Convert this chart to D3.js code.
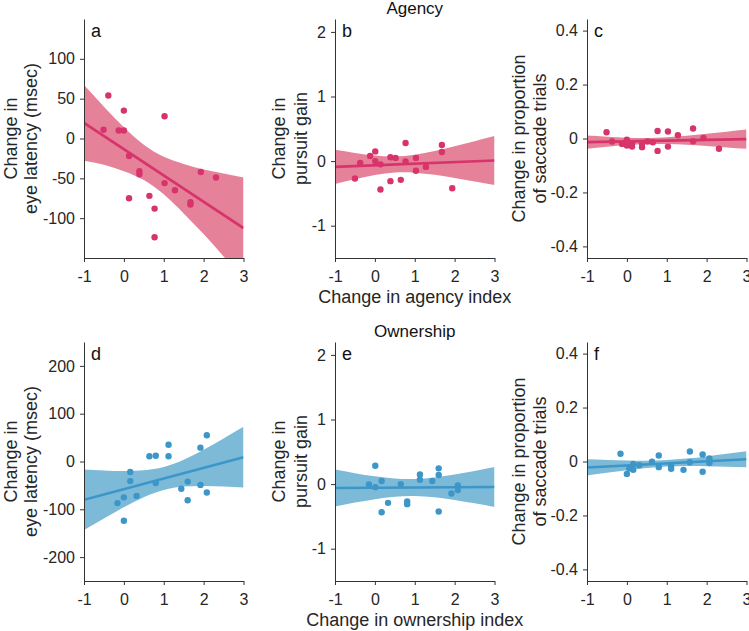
<!DOCTYPE html>
<html>
<head>
<meta charset="utf-8">
<script src="https://cdn.jsdelivr.net/npm/d3@7"></script>
<style>
  html, body { margin: 0; padding: 0; background: #fff; }
  svg { display: block; font-family: "Liberation Sans", Arial, Helvetica, sans-serif; }
  .axis path, .axis line { stroke: #333; stroke-width: 1; }
  .axis text { fill: #262626; font-size: 16px; }
</style>
</head>
<body>
<svg id="chart" width="749" height="631"></svg>
<script>
// ---------------- DATA ----------------
const xTicks = [-1, 0, 1, 2, 3];
const latencyTicksA = [-100, -50, 0, 50, 100];
const latencyTicksD = [-200, -100, 0, 100, 200];
const gainTicks = [-1, 0, 1, 2];
const saccadeTicks = [-0.4, -0.2, 0, 0.2, 0.4];

// confidence-band sample positions (x) and fit-line end positions
const bandX = [-1, -0.5, 0, 0.5, 1, 1.5, 2, 2.5, 3];
const fitX = [-1, 3];

// a: agency vs eye latency
const aX = [-0.51, -0.39, -0.13, 0, 0, 0.13, 0.13, 0.39, 0.39, 0.64, 0.77, 0.77, 1.02, 1.02, 1.28, 1.67, 1.67, 1.93, 2.31];
const aY = [11, 54, 10, 35, 10, -22, -75, -41, -45, -72, -88, -124, 28, -56, -65, -80, -83, -42, -49];
const aFit = [19.6, -112.4];
const aUpper = [67, 40, 14, -8, -23, -32, -39, -44, -49];
const aLower = [-28, -33, -41, -52, -70, -94, -120, -148, -176];

// b: agency vs pursuit gain
const bX = [-0.50, -0.37, -0.12, 0.01, 0.01, 0.14, 0.14, 0.39, 0.39, 0.52, 0.65, 0.77, 0.77, 1.03, 1.03, 1.28, 1.68, 1.68, 1.94];
const bY = [-0.27, -0.03, 0.08, 0.15, 0.0, -0.05, -0.44, 0.06, -0.31, 0.05, -0.29, 0.28, -0.005, 0.05, -0.15, -0.09, 0.25, 0.14, -0.42];
const bFit = [-0.09, 0.01];
const bUpper = [0.175, 0.126, 0.086, 0.073, 0.10, 0.158, 0.23, 0.309, 0.39];
const bLower = [-0.355, -0.281, -0.216, -0.178, -0.18, -0.213, -0.26, -0.314, -0.37];

// c: agency vs proportion of saccade trials
const cX = [-0.51, -0.37, -0.12, 0, 0, 0.13, 0.13, 0.38, 0.38, 0.52, 0.65, 0.77, 0.77, 1.03, 1.03, 1.28, 1.66, 1.66, 1.92, 2.31];
const cY = [0.023, -0.011, -0.02, -0.004, -0.026, -0.019, -0.03, -0.02, -0.032, -0.011, -0.014, 0.028, -0.046, 0.026, -0.03, 0.012, 0.037, -0.01, 0.002, -0.038];
const cFit = [-0.0135, -0.0025];
const cUpper = [0.011, 0.0065, 0.0028, 0.0016, 0.0045, 0.0104, 0.0174, 0.0251, 0.033];
const cLower = [-0.038, -0.0307, -0.0244, -0.0204, -0.0205, -0.0236, -0.028, -0.0329, -0.038];

// d: ownership vs eye latency
const dX = [-0.16, 0, 0, 0.16, 0.16, 0.32, 0.64, 0.80, 0.80, 1.12, 1.12, 1.44, 1.60, 1.60, 1.92, 1.92, 2.08, 2.08];
const dY = [-87, -75, -124, -22, -41, -72, 11, 12, -45, 35, 11, -57, -42, -81, 29, -49, 55, -65];
const dFit = [-80, 9];
const dUpper = [-16.5, -18.7, -19.9, -18.5, -11.5, 3.7, 24.7, 48.1, 72.5];
const dLower = [-143.5, -119.1, -95.7, -74.7, -59.5, -52.5, -51.2, -52.3, -54.5];

// e: ownership vs pursuit gain
const eX = [-0.15, 0.01, 0.01, 0.17, 0.17, 0.33, 0.65, 0.81, 0.81, 1.13, 1.13, 1.44, 1.60, 1.60, 1.60, 1.92, 2.08, 2.08];
const eY = [-0.005, 0.285, -0.047, 0.047, -0.435, -0.29, 0, -0.27, -0.31, 0.15, 0.067, 0.047, 0.244, 0.14, -0.425, -0.145, -0.02, -0.093];
const eFit = [-0.06, -0.045];
const eUpper = [0.225, 0.17, 0.121, 0.086, 0.079, 0.102, 0.148, 0.204, 0.265];
const eLower = [-0.345, -0.286, -0.233, -0.194, -0.184, -0.204, -0.246, -0.298, -0.355];

// f: ownership vs proportion of saccade trials
const fX = [-0.16, 0, 0.06, 0.16, 0.16, 0.31, 0.63, 0.80, 0.80, 1.11, 1.11, 1.42, 1.58, 1.58, 1.90, 1.90, 2.07, 2.07];
const fY = [0.029, -0.046, -0.026, -0.009, -0.031, -0.014, -0.001, 0.022, -0.021, -0.016, -0.027, -0.031, 0.037, -0.003, 0.026, -0.038, 0.011, -0.006];
const fFit = [-0.022, 0.0084];
const fUpper = [0.008, 0.0057, 0.0038, 0.0032, 0.0052, 0.0108, 0.019, 0.0285, 0.0384];
const fLower = [-0.052, -0.0421, -0.0326, -0.0244, -0.0188, -0.0168, -0.0174, -0.0193, -0.0216];

const rowTitles = ["Agency", "Ownership"];
const xAxisTitles = ["Change in agency index", "Change in ownership index"];
const yAxisTitles = [["Change in", "eye latency (msec)"], ["Change in", "pursuit gain"], ["Change in proportion", "of saccade trials"]];
const panelLetters = ["a", "b", "c", "d", "e", "f"];

// ---------------- STYLE / LAYOUT ----------------
const pink = { dot: "#d6346a", band: "#e6819a" };
const blue = { dot: "#3c96c8", band: "#7dbad8" };
const colX = [84, 335, 587];
const plotW = 159.5;
const rowY = [19, 342];
const plotH = 239;
const yLabelOffsets = [[-67.5, -47], [-50, -28.5], [-62.5, -41]];

const panels = [
  { row: 0, col: 0, x: aX, y: aY, fit: aFit, up: aUpper, lo: aLower, dom: [-150, 150], ticks: latencyTicksA, c: pink },
  { row: 0, col: 1, x: bX, y: bY, fit: bFit, up: bUpper, lo: bLower, dom: [-1.5, 2.2], ticks: gainTicks, c: pink },
  { row: 0, col: 2, x: cX, y: cY, fit: cFit, up: cUpper, lo: cLower, dom: [-0.443, 0.443], ticks: saccadeTicks, c: pink },
  { row: 1, col: 0, x: dX, y: dY, fit: dFit, up: dUpper, lo: dLower, dom: [-250, 250], ticks: latencyTicksD, c: blue },
  { row: 1, col: 1, x: eX, y: eY, fit: eFit, up: eUpper, lo: eLower, dom: [-1.5, 2.2], ticks: gainTicks, c: blue },
  { row: 1, col: 2, x: fX, y: fY, fit: fFit, up: fUpper, lo: fLower, dom: [-0.443, 0.443], ticks: saccadeTicks, c: blue }
];

const svg = d3.select("#chart");
const fmt = d => String(d);

panels.forEach((p, i) => {
  const x0 = colX[p.col], y0 = rowY[p.row];
  const g = svg.append("g").attr("transform", `translate(${x0},${y0})`);
  const xs = d3.scaleLinear().domain([-1, 3]).range([0, plotW]);
  const ys = d3.scaleLinear().domain(p.dom).range([plotH, 0]);

  const clipId = "clip" + i;
  g.append("clipPath").attr("id", clipId)
    .append("rect").attr("x", 0).attr("y", 0).attr("width", plotW).attr("height", plotH);
  const plot = g.append("g").attr("clip-path", `url(#${clipId})`);

  const bandData = bandX.map((bx, k) => ({ x: bx, u: p.up[k], l: p.lo[k] }));
  plot.append("path")
    .datum(bandData)
    .attr("fill", p.c.band)
    .attr("stroke", "none")
    .attr("d", d3.area().curve(d3.curveNatural)
      .x(d => xs(d.x)).y0(d => ys(d.l)).y1(d => ys(d.u)));

  const fitData = fitX.map((fx, k) => ({ x: fx, y: p.fit[k] }));
  plot.append("path")
    .datum(fitData)
    .attr("fill", "none")
    .attr("stroke", p.c.dot)
    .attr("stroke-width", 2.6)
    .attr("d", d3.line().x(d => xs(d.x)).y(d => ys(d.y)));

  plot.selectAll("circle.pt")
    .data(p.x.map((v, k) => ({ x: v, y: p.y[k] })))
    .join("circle")
    .attr("class", "pt")
    .attr("cx", d => xs(d.x))
    .attr("cy", d => ys(d.y))
    .attr("r", 3.2)
    .attr("fill", p.c.dot);

  g.append("g").attr("class", "axis")
    .attr("transform", `translate(0,${plotH})`)
    .call(d3.axisBottom(xs).tickValues(xTicks).tickFormat(fmt).tickSize(4).tickSizeOuter(0).tickPadding(9));

  g.append("g").attr("class", "axis")
    .call(d3.axisLeft(ys).tickValues(p.ticks).tickFormat(fmt).tickSize(4).tickSizeOuter(0).tickPadding(5));

  // panel letter
  g.append("text")
    .attr("x", 7).attr("y", 18)
    .attr("font-size", 18).attr("fill", "#111")
    .text(panelLetters[i]);

  // y axis title (two lines, rotated)
  const lab = yAxisTitles[p.col];
  const off = yLabelOffsets[p.col];
  const yt = g.append("g").attr("transform", `translate(0,${plotH / 2}) rotate(-90)`);
  lab.forEach((t, k) => {
    yt.append("text")
      .attr("x", 0).attr("y", off[k])
      .attr("text-anchor", "middle")
      .attr("font-size", 18).attr("fill", "#262626")
      .text(t);
  });
});

// row titles and x axis titles
rowTitles.forEach((t, r) => {
  svg.append("text")
    .attr("x", colX[1] + plotW / 2).attr("y", rowY[r] - 5)
    .attr("text-anchor", "middle")
    .attr("font-size", 17).attr("fill", "#111")
    .text(t);
  svg.append("text")
    .attr("x", colX[1] + plotW / 2).attr("y", rowY[r] + plotH + 45)
    .attr("text-anchor", "middle")
    .attr("font-size", 18).attr("fill", "#262626")
    .text(xAxisTitles[r]);
});
</script>
</body>
</html>
